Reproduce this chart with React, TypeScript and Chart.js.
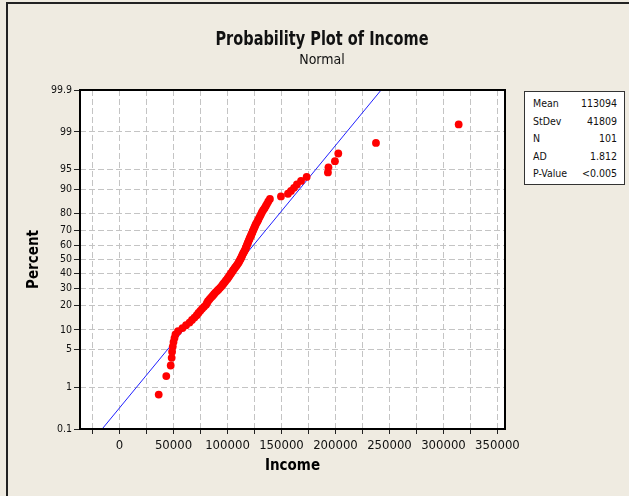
import React, { useEffect, useRef } from 'react';
import { Chart, registerables } from 'chart.js';

Chart.register(...registerables);

// Income values (sorted)
const incomes: number[] = [
  36300, 43300, 47400, 48300, 48700, 49300, 50000, 50900, 51800, 54200,
  58300, 61600, 64800, 67100, 69400, 71500, 73100, 74800, 76400, 78200,
  80100, 81000, 81900, 83300, 84700, 86100, 87500, 88700, 90300, 91700,
  93100, 94400, 95500, 96600, 97700, 98600, 99800, 100700, 101700, 102500,
  103400, 104300, 105100, 106000, 106900, 107900, 108800, 109700, 110500, 111100,
  111800, 112500, 113000, 113600, 114200, 114800, 115600, 116200, 116800, 117200,
  117800, 118200, 118800, 119300, 119900, 120400, 121000, 121700, 122200, 122900,
  123400, 124100, 124700, 125400, 126000, 126800, 127700, 128500, 129300, 130200,
  131000, 131900, 133000, 134300, 135500, 136600, 137800, 139300, 149500, 156000,
  158800, 161600, 164300, 168100, 173300, 193000, 193500, 199500, 202600, 237500,
  314100,
];

const yTickPercents: number[] = [0.1, 1, 5, 10, 20, 30, 40, 50, 60, 70, 80, 90, 95, 99, 99.9];
const yTickLabels: string[] = ['0.1', '1', '5', '10', '20', '30', '40', '50', '60', '70', '80', '90', '95', '99', '99.9'];
const xTickValues: number[] = [-25000, 0, 25000, 50000, 75000, 100000, 125000, 150000, 175000, 200000, 225000, 250000, 275000, 300000, 325000, 350000];
const xTickLabels: string[] = ['', '0', '', '50000', '', '100000', '', '150000', '', '200000', '', '250000', '', '300000', '', '350000'];
const xMin = -36600;
const xMax = 357000;

const statLabels: string[] = ['Mean', 'StDev', 'N', 'AD', 'P-Value'];
const statValues: string[] = ['113094', '41809', '101', '1.812', '<0.005'];
const fitMean = 113094;
const fitStDev = 41809;

const TITLE = 'Probability Plot of Income';
const SUBTITLE = 'Normal';
const X_TITLE = 'Income';
const Y_TITLE = 'Percent';

const COND = '"DejaVu Sans Condensed", "Liberation Sans Narrow", sans-serif';

// inverse standard normal CDF (probability scale transform)
function normInv(p: number): number {
  const a = [-3.969683028665376e1, 2.209460984245205e2, -2.759285104469687e2, 1.38357751867269e2, -3.066479806614716e1, 2.506628277459239];
  const b = [-5.447609879822406e1, 1.615858368580409e2, -1.556989798598866e2, 6.680131188771972e1, -1.328068155288572e1];
  const c = [-7.784894002430293e-3, -3.223964580411365e-1, -2.400758277161838, -2.549732539343734, 4.374664141464968, 2.938163982698783];
  const d = [7.784695709041462e-3, 3.224671290700398e-1, 2.445134137142996, 3.754408661907416];
  const pl = 0.02425;
  if (p < pl) {
    const q = Math.sqrt(-2 * Math.log(p));
    return (((((c[0] * q + c[1]) * q + c[2]) * q + c[3]) * q + c[4]) * q + c[5]) / ((((d[0] * q + d[1]) * q + d[2]) * q + d[3]) * q + 1);
  }
  if (p <= 1 - pl) {
    const q = p - 0.5;
    const r = q * q;
    return ((((((a[0] * r + a[1]) * r + a[2]) * r + a[3]) * r + a[4]) * r + a[5]) * q) / (((((b[0] * r + b[1]) * r + b[2]) * r + b[3]) * r + b[4]) * r + 1);
  }
  const q = Math.sqrt(-2 * Math.log(1 - p));
  return -(((((c[0] * q + c[1]) * q + c[2]) * q + c[3]) * q + c[4]) * q + c[5]) / ((((d[0] * q + d[1]) * q + d[2]) * q + d[3]) * q + 1);
}

const zMin = normInv(yTickPercents[0] / 100);
const zMax = normInv(yTickPercents[yTickPercents.length - 1] / 100);

const framePlugin = {
  id: 'frame',
  beforeDraw(chart: any) {
    const { ctx, chartArea, width, height } = chart;
    ctx.save();
    ctx.fillStyle = '#EFEBE1';
    ctx.fillRect(0, 0, width, height);
    ctx.fillStyle = '#ffffff';
    ctx.fillRect(chartArea.left, chartArea.top, chartArea.right - chartArea.left, chartArea.bottom - chartArea.top);
    ctx.strokeStyle = '#222';
    ctx.lineWidth = 2;
    ctx.beginPath();
    ctx.moveTo(7, height);
    ctx.lineTo(7, 3);
    ctx.lineTo(width, 3);
    ctx.stroke();
    ctx.restore();
  },
  afterDraw(chart: any) {
    const { ctx, chartArea } = chart;
    ctx.save();
    ctx.setLineDash([]);
    ctx.strokeStyle = '#000';
    ctx.lineWidth = 2;
    ctx.strokeRect(chartArea.left, chartArea.top, chartArea.right - chartArea.left, chartArea.bottom - chartArea.top);
    ctx.restore();
  },
};

export default function App() {
  const canvasRef = useRef<HTMLCanvasElement | null>(null);

  useEffect(() => {
    if (!canvasRef.current) return;
    const n = incomes.length;
    const points = incomes.map((v, i) => ({ x: v, y: normInv((i + 1 - 0.3) / (n + 0.4)) }));
    const fitLine = [
      { x: fitMean + zMin * fitStDev, y: zMin },
      { x: fitMean + zMax * fitStDev, y: zMax },
    ];
    const chart = new Chart(canvasRef.current, {
      type: 'scatter',
      data: {
        datasets: [
          {
            label: 'Income',
            data: points,
            pointRadius: 3.9,
            pointBackgroundColor: '#ff0000',
            pointBorderWidth: 0,
            pointBorderColor: '#ff0000',
            showLine: false,
            order: 1,
          },
          {
            label: 'Fit',
            data: fitLine,
            showLine: true,
            borderColor: '#2020ff',
            borderWidth: 1,
            pointRadius: 0,
            fill: false,
            order: 2,
          },
        ],
      },
      options: {
        animation: false,
        responsive: false,
        maintainAspectRatio: false,
        layout: { padding: { left: 0, right: 124, top: 90, bottom: 0 } },
        plugins: {
          legend: { display: false },
          tooltip: { enabled: false },
          title: { display: false },
        },
        scales: {
          x: {
            type: 'linear',
            min: xMin,
            max: xMax,
            bounds: 'data',
            afterBuildTicks: (s: any) => {
              s.ticks = xTickValues.map((v) => ({ value: v }));
            },
            afterFit: (s: any) => {
              s.height = 67;
            },
            ticks: {
              autoSkip: false,
              maxRotation: 0,
              padding: 4,
              color: '#111',
              font: { family: COND, size: 13 },
              callback: (_v: any, i: number) => xTickLabels[i],
            },
            grid: {
              color: '#c4c4c4',
              lineWidth: 1,
              drawTicks: true,
              tickLength: 5,
              tickColor: '#222',
              tickWidth: 1,
              tickBorderDash: [],
            },
            border: { display: false, dash: [6, 3] },
            title: {
              display: true,
              text: X_TITLE,
              color: '#000',
              font: { family: COND, size: 15, weight: 'bold' },
              padding: { top: 0, bottom: 21 },
            },
          },
          y: {
            type: 'linear',
            min: zMin,
            max: zMax,
            bounds: 'data',
            afterBuildTicks: (s: any) => {
              s.ticks = yTickPercents.map((p) => ({ value: normInv(p / 100) }));
            },
            afterFit: (s: any) => {
              s.width = 80;
            },
            ticks: {
              autoSkip: false,
              padding: 2,
              color: '#111',
              font: { family: COND, size: 10.5 },
              callback: (_v: any, i: number) => yTickLabels[i],
            },
            grid: {
              color: '#c4c4c4',
              lineWidth: 1,
              drawTicks: true,
              tickLength: 6,
              tickColor: '#222',
              tickWidth: 1,
              tickBorderDash: [],
            },
            border: { display: false, dash: [6, 3] },
            title: {
              display: true,
              text: Y_TITLE,
              color: '#000',
              font: { family: COND, size: 15, weight: 'bold' },
              padding: { top: 25, bottom: 0 },
            },
          },
        },
      },
      plugins: [framePlugin],
    } as any);
    return () => chart.destroy();
  }, []);

  return (
    <div style={{ position: 'fixed', left: 0, top: 0, width: 629, height: 496, overflow: 'hidden', background: '#EFEBE1' }}>
      <canvas ref={canvasRef} width={629} height={496} style={{ position: 'absolute', left: 0, top: 0, width: 629, height: 496 }} />
      <div
        style={{
          position: 'absolute', left: 0, width: 644, top: 27, textAlign: 'center',
          fontFamily: COND, fontWeight: 'bold', fontSize: 19, lineHeight: '22px', color: '#111',
          transform: 'scaleX(0.85)', transformOrigin: '322px 0',
        }}
      >
        {TITLE}
      </div>
      <div
        style={{
          position: 'absolute', left: 0, width: 644, top: 50, textAlign: 'center',
          fontFamily: COND, fontSize: 14, lineHeight: '18px', color: '#111',
        }}
      >
        {SUBTITLE}
      </div>
      <div
        style={{
          position: 'absolute', left: 524, top: 91, width: 101, height: 94, boxSizing: 'border-box',
          border: '1px solid #333', background: '#fff', paddingTop: 3, paddingLeft: 8, paddingRight: 7,
          fontFamily: COND, fontSize: 10.5, color: '#111',
        }}
      >
        {statLabels.map((l, i) => (
          <div key={l} style={{ display: 'flex', justifyContent: 'space-between', height: 17.6, lineHeight: '17.6px' }}>
            <span>{l}</span>
            <span>{statValues[i]}</span>
          </div>
        ))}
      </div>
    </div>
  );
}
